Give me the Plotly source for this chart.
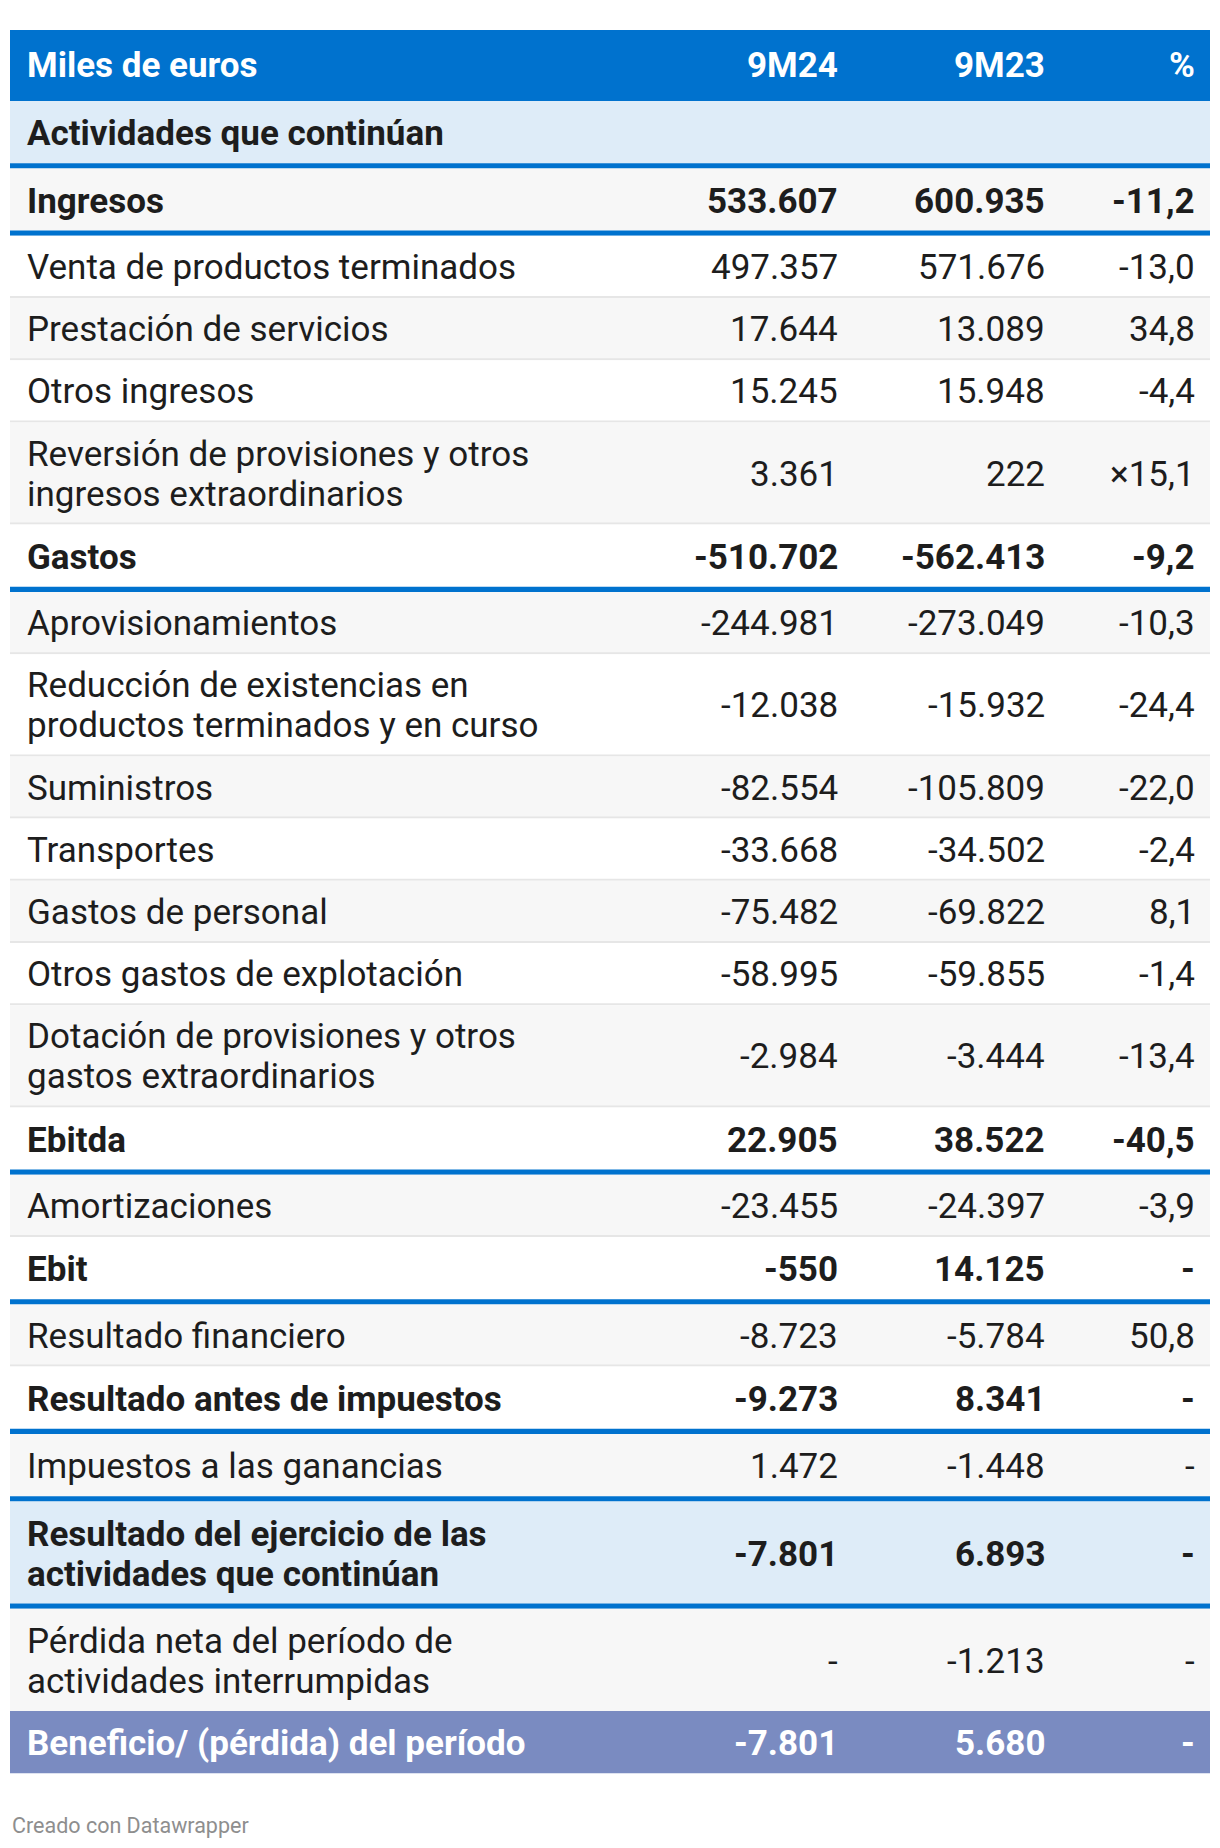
import plotly.graph_objects as go

# ---------------- data ----------------
header = ["Miles de euros", "9M24", "9M23", "%"]

labels = [
    "Actividades que continúan",
    "Ingresos",
    "Venta de productos terminados",
    "Prestación de servicios",
    "Otros ingresos",
    "Reversión de provisiones y otros<br>ingresos extraordinarios",
    "Gastos",
    "Aprovisionamientos",
    "Reducción de existencias en<br>productos terminados y en curso",
    "Suministros",
    "Transportes",
    "Gastos de personal",
    "Otros gastos de explotación",
    "Dotación de provisiones y otros<br>gastos extraordinarios",
    "Ebitda",
    "Amortizaciones",
    "Ebit",
    "Resultado financiero",
    "Resultado antes de impuestos",
    "Impuestos a las ganancias",
    "Resultado del ejercicio de las<br>actividades que continúan",
    "Pérdida neta del período de<br>actividades interrumpidas",
    "Beneficio/ (pérdida) del período",
]

v24 = ["", "533.607", "497.357", "17.644", "15.245", "3.361", "-510.702",
       "-244.981", "-12.038", "-82.554", "-33.668", "-75.482", "-58.995",
       "-2.984", "22.905", "-23.455", "-550", "-8.723", "-9.273", "1.472",
       "-7.801", "-", "-7.801"]

v23 = ["", "600.935", "571.676", "13.089", "15.948", "222", "-562.413",
       "-273.049", "-15.932", "-105.809", "-34.502", "-69.822", "-59.855",
       "-3.444", "38.522", "-24.397", "14.125", "-5.784", "8.341", "-1.448",
       "6.893", "-1.213", "5.680"]

pct = ["", "-11,2", "-13,0", "34,8", "-4,4", "×15,1", "-9,2",
       "-10,3", "-24,4", "-22,0", "-2,4", "8,1", "-1,4",
       "-13,4", "-40,5", "-3,9", "-", "50,8", "-", "-",
       "-", "-", "-"]

# row kinds: section / total / item / result / final
kinds = ["section", "total", "item", "item", "item", "item", "total",
         "item", "item", "item", "item", "item", "item", "item", "total",
         "item", "total", "item", "total", "item", "result", "item", "final"]

footer = "Creado con Datawrapper"

# ---------------- style ----------------
W, H = 1220, 1848
FONT = "Roboto"
BLUE = "#0072CE"
LIGHT_BLUE = "#DEECF8"
PURPLE = "#7A8BC1"
GREY = "#F7F7F7"
WHITE = "#FFFFFF"
THIN = "#E6E6E6"
TEXT = "#1d1d1d"

X0, X1 = 10, 1210
COL_LABEL = 24.5
COL_RIGHT = [839.5, 1046.5, 1196.5]
FS = 35
TEXT_DY = 1.5

TOP = 30
HEADER_H = 71
ROW_H = 62.2
LINE_H = 40
BLUE_W = 5.2
THIN_W = 2

fig = go.Figure()
fig.add_trace(go.Scatter(x=[0], y=[0], mode="markers", marker=dict(opacity=0),
                         hoverinfo="skip", showlegend=False))

def rect(y0, y1, color):
    fig.add_shape(type="rect", xref="x", yref="y", x0=X0, x1=X1, y0=y0, y1=y1,
                  fillcolor=color, line=dict(width=0), layer="below")

def text(x, y, s, anchor, color, bold, size=FS):
    fig.add_annotation(x=x, y=y, xref="x", yref="y", text=s, showarrow=False,
                       xanchor=anchor, yanchor="middle", align=anchor,
                       font=dict(family=FONT, size=size, color=color,
                                 weight=700 if bold else 400))

# header
rect(TOP, TOP + HEADER_H, BLUE)
yc = TOP + HEADER_H / 2
text(COL_LABEL, yc, header[0], "left", "white", True)
for xr, h in zip(COL_RIGHT, header[1:]):
    text(xr, yc, h, "right", "white", True)

y = TOP + HEADER_H
body_i = 0
n = len(labels)
for i in range(n):
    kind = kinds[i]
    lines = labels[i].split("<br>")
    nl = len(lines)
    h = ROW_H + LINE_H * (nl - 1)
    if kind in ("section", "result"):
        bg = LIGHT_BLUE
    elif kind == "final":
        bg = PURPLE
    else:
        bg = GREY if body_i % 2 == 0 else WHITE
    if kind != "section":
        body_i += 1
    rect(y, y + h, bg)
    bold = kind in ("section", "total", "result", "final")
    color = "white" if kind == "final" else TEXT
    nxt = kinds[i + 1] if i + 1 < n else None
    blue_below = kind in ("section", "total", "result") or nxt == "result"
    thin_below = (not blue_below) and nxt not in (None, "final")
    content_h = h - (THIN_W if thin_below else 0)
    ym = y + content_h / 2 + TEXT_DY
    for k, ln in enumerate(lines):
        text(COL_LABEL, ym + (k - (nl - 1) / 2) * LINE_H, ln, "left", color, bold)
    for xr, val in zip(COL_RIGHT, (v24[i], v23[i], pct[i])):
        if val:
            text(xr, ym, val, "right", color, bold)
    if thin_below:
        rect(y + h - THIN_W, y + h, THIN)
    y += h
    if blue_below:
        rect(y, y + BLUE_W, BLUE)
        y += BLUE_W

text(10, 1825, footer, "left", "#8E8E8E", False, size=21.5)

fig.update_layout(
    width=W, height=H, margin=dict(l=0, r=0, t=0, b=0),
    paper_bgcolor="white", plot_bgcolor="white", showlegend=False,
    xaxis=dict(range=[0, W], visible=False, fixedrange=True),
    yaxis=dict(range=[H, 0], visible=False, fixedrange=True),
)
fig.write_html("out.html", config={"displayModeBar": False},
               post_script="document.body.style.margin='0';")
